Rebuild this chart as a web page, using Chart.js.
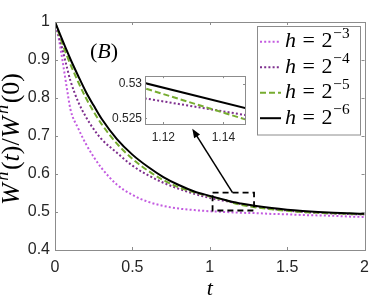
<!DOCTYPE html>
<html>
<head>
<meta charset="utf-8">
<script src="https://cdn.jsdelivr.net/npm/chart.js"></script>
<style>
  body { margin: 0; background: #fff; }
  #wrap { position: relative; width: 377px; height: 303px; }
  #mainChart { position: absolute; left: 0; top: 0; }
  #insetChart { position: absolute; left: 110px; top: 66px; }
</style>
</head>
<body>
<div id="wrap">
  <canvas id="mainChart" width="377" height="303"></canvas>
  <canvas id="insetChart" width="137" height="80"></canvas>
</div>
<script>
// time grid and W^h(t)/W^h(0)
const tValues = [0, 0.025, 0.05, 0.075, 0.1, 0.15, 0.2, 0.25, 0.3, 0.4, 0.5, 0.6, 0.7, 0.8, 0.9, 1.0, 1.1, 1.15, 1.2, 1.3, 1.4, 1.5, 1.6, 1.7, 1.8, 1.9, 2.0];
const wH3 = [1.0, 0.955, 0.895, 0.83, 0.77, 0.72, 0.679, 0.645, 0.616, 0.572, 0.545, 0.527, 0.516, 0.509, 0.505, 0.502, 0.5, 0.499, 0.498, 0.497, 0.495, 0.494, 0.492, 0.491, 0.49, 0.488, 0.487];
const wH4 = [1.0, 0.962, 0.925, 0.884, 0.845, 0.79, 0.75, 0.718, 0.692, 0.656, 0.622, 0.597, 0.577, 0.561, 0.548, 0.537, 0.5289, 0.5253, 0.521, 0.514, 0.508, 0.504, 0.5, 0.498, 0.496, 0.4945, 0.4935];
const wH5 = [1.0, 0.97, 0.94, 0.913, 0.888, 0.842, 0.8, 0.764, 0.732, 0.68, 0.64, 0.609, 0.584, 0.565, 0.552, 0.541, 0.5312, 0.5245, 0.519, 0.512, 0.507, 0.503, 0.5, 0.498, 0.4965, 0.4952, 0.4943];
const wH6 = [1.0, 0.975, 0.95, 0.926, 0.902, 0.858, 0.816, 0.78, 0.746, 0.692, 0.651, 0.619, 0.592, 0.571, 0.554, 0.5425, 0.5316, 0.5262, 0.5223, 0.5157, 0.5104, 0.5062, 0.5029, 0.5002, 0.4981, 0.4965, 0.4951];
const hExponents = [-3, -4, -5, -6];

const xTicks = [0, 0.5, 1, 1.5, 2];
const yTicks = [0.4, 0.5, 0.6, 0.7, 0.8, 0.9, 1];
const insetXTicks = [1.12, 1.14];
const insetYTicks = [0.525, 0.53];

const sansFont = '"Liberation Sans", Arial, sans-serif';
const serifFont = '"Liberation Serif", "Times New Roman", serif';
const axisGray = '#8c8c8c';
const labelColor = '#262626';

const styles = [
  { color: '#c35be0', dash: [2, 2.2] },
  { color: '#7e2f8e', dash: [2, 2.2] },
  { color: '#77ac30', dash: [6, 3] },
  { color: '#000000', dash: [] }
];

function makeDatasets(smooth) {
  return [wH3, wH4, wH5, wH6].map((vals, i) => ({
    label: 'h = 2^' + hExponents[i],
    data: tValues.map((t, j) => ({ x: t, y: vals[j] })),
    borderColor: styles[i].color,
    borderDash: styles[i].dash,
    borderWidth: 2,
    pointRadius: 0,
    fill: false,
    order: 3 - i,
    cubicInterpolationMode: smooth ? 'monotone' : 'default',
    tension: 0
  }));
}

function fmt(v) { return String(Math.round(v * 1000) / 1000); }

// box with ticks pointing inward on all four sides
function drawFrame(chart, tickLen) {
  const { ctx, chartArea: a, scales: { x, y } } = chart;
  ctx.save();
  ctx.strokeStyle = axisGray;
  ctx.lineWidth = 1;
  ctx.setLineDash([]);
  ctx.beginPath();
  x.ticks.forEach(t => {
    const px = Math.round(x.getPixelForValue(t.value)) + 0.5;
    ctx.moveTo(px, a.bottom); ctx.lineTo(px, a.bottom - tickLen);
    ctx.moveTo(px, a.top); ctx.lineTo(px, a.top + tickLen);
  });
  y.ticks.forEach(t => {
    const py = Math.round(y.getPixelForValue(t.value)) + 0.5;
    ctx.moveTo(a.left, py); ctx.lineTo(a.left + tickLen, py);
    ctx.moveTo(a.right, py); ctx.lineTo(a.right - tickLen, py);
  });
  ctx.stroke();
  ctx.strokeRect(Math.round(a.left) + 0.5, Math.round(a.top) + 0.5,
    Math.round(a.right - a.left), Math.round(a.bottom - a.top));
  ctx.restore();
}

// parts: [text, italic, superscript]; a number is a gap in em
function drawMath(ctx, parts, x, y, size, center) {
  const fontOf = p => (p[1] ? 'italic ' : '') + (p[2] ? size * 0.7 : size) + 'px ' + serifFont;
  const widthOf = p => {
    if (typeof p === 'number') return p * size;
    ctx.font = fontOf(p);
    return ctx.measureText(p[0]).width;
  };
  let w = 0;
  parts.forEach(p => { w += widthOf(p); });
  let cx = center ? x - w / 2 : x;
  parts.forEach(p => {
    if (typeof p !== 'number') {
      ctx.font = fontOf(p);
      ctx.fillText(p[0], cx, p[2] ? y - size * 0.42 : y);
    }
    cx += widthOf(p);
  });
}

const framePlugin = {
  id: 'frame',
  afterDraw(chart) { drawFrame(chart, 3); }
};

const decorPlugin = {
  id: 'decor',
  afterDraw(chart) {
    const { ctx, scales: { x, y } } = chart;
    ctx.save();
    ctx.fillStyle = '#000';
    ctx.textBaseline = 'alphabetic';

    // y label
    ctx.save();
    ctx.translate(19, 139);
    ctx.rotate(-Math.PI / 2);
    drawMath(ctx, [['W', 1], 0.1, ['h', 1, 1], 0.06, ['(', 0], ['t', 1], [')', 0], ['/', 0], ['W', 1], 0.1, ['h', 1, 1], 0.06, ['(0)', 0]], 0, 0, 26, true);
    ctx.restore();

    // panel tag
    drawMath(ctx, [['(', 0], ['B', 1], [')', 0]], 104, 58, 22, true);

    // dashed zoom box
    const bx0 = x.getPixelForValue(1.018), bx1 = x.getPixelForValue(1.286);
    const by0 = y.getPixelForValue(0.551), by1 = y.getPixelForValue(0.504);
    ctx.strokeStyle = '#000';
    ctx.lineWidth = 1.8;
    ctx.setLineDash([6, 4]);
    ctx.strokeRect(bx0, by0, bx1 - bx0, by1 - by0);
    ctx.setLineDash([]);

    // arrow to inset
    const ax0 = x.getPixelForValue(1.147), ay0 = y.getPixelForValue(0.551);
    const ax1 = x.getPixelForValue(0.887), ay1 = y.getPixelForValue(0.719);
    const ang = Math.atan2(ay1 - ay0, ax1 - ax0);
    ctx.lineWidth = 1.5;
    ctx.beginPath();
    ctx.moveTo(ax0, ay0);
    ctx.lineTo(ax1 - 6 * Math.cos(ang), ay1 - 6 * Math.sin(ang));
    ctx.stroke();
    ctx.beginPath();
    ctx.moveTo(ax1, ay1);
    ctx.lineTo(ax1 - 9 * Math.cos(ang) + 3.5 * Math.sin(ang), ay1 - 9 * Math.sin(ang) - 3.5 * Math.cos(ang));
    ctx.lineTo(ax1 - 9 * Math.cos(ang) - 3.5 * Math.sin(ang), ay1 - 9 * Math.sin(ang) + 3.5 * Math.cos(ang));
    ctx.closePath();
    ctx.fill();

    // legend
    ctx.fillStyle = '#fff';
    ctx.fillRect(257.5, 26.5, 103, 108.5);
    ctx.strokeStyle = axisGray;
    ctx.lineWidth = 1;
    ctx.strokeRect(257.5, 26.5, 103, 108.5);
    chart.data.datasets.forEach((ds, i) => {
      const ly = 41.7 + i * 25.5;
      ctx.strokeStyle = ds.borderColor;
      ctx.lineWidth = 2;
      ctx.setLineDash(ds.borderDash);
      ctx.beginPath();
      ctx.moveTo(260, ly);
      ctx.lineTo(281, ly);
      ctx.stroke();
      ctx.setLineDash([]);
      ctx.fillStyle = '#000';
      drawMath(ctx, [['h', 1], 0.3, ['=', 0], 0.3, ['2', 0], 0.03, ['\u2212' + Math.abs(hExponents[i]), 0, 1]], 285, ly + 5.5, 22, false);
    });
    ctx.restore();
  }
};

new Chart('mainChart', {
  type: 'line',
  data: { datasets: makeDatasets(true) },
  options: {
    responsive: false,
    animation: false,
    devicePixelRatio: 1,
    layout: { padding: { top: 22, right: 11, left: 0, bottom: 0 } },
    plugins: { legend: { display: false }, tooltip: { enabled: false } },
    scales: {
      x: {
        type: 'linear', min: 0, max: 2,
        afterBuildTicks: s => { s.ticks = xTicks.map(v => ({ value: v })); },
        afterFit: s => { s.height = 53; },
        grid: { display: false, drawTicks: false },
        border: { display: false },
        ticks: { font: { family: sansFont, size: 16 }, color: labelColor, padding: 8, maxRotation: 0, callback: fmt },
        title: { display: true, text: 't', color: '#000', font: { family: serifFont, style: 'italic', size: 22 }, padding: { top: 0, bottom: 1 } }
      },
      y: {
        type: 'linear', min: 0.4, max: 1,
        afterBuildTicks: s => { s.ticks = yTicks.map(v => ({ value: v })); },
        afterFit: s => { s.width = 55; },
        grid: { display: false, drawTicks: false },
        border: { display: false },
        ticks: { font: { family: sansFont, size: 16 }, color: labelColor, padding: 5, callback: fmt }
      }
    }
  },
  plugins: [framePlugin, decorPlugin]
});

new Chart('insetChart', {
  type: 'line',
  data: { datasets: makeDatasets(false) },
  options: {
    responsive: false,
    animation: false,
    devicePixelRatio: 1,
    layout: { padding: { top: 1, right: 2, left: 0, bottom: 0 } },
    plugins: { legend: { display: false }, tooltip: { enabled: false } },
    scales: {
      x: {
        type: 'linear', min: 1.1139, max: 1.1472,
        afterBuildTicks: s => { s.ticks = insetXTicks.map(v => ({ value: v })); },
        afterFit: s => { s.height = 22; },
        grid: { display: false, drawTicks: false },
        border: { display: false },
        ticks: { font: { family: sansFont, size: 12 }, color: labelColor, padding: 6, maxRotation: 0, callback: fmt }
      },
      y: {
        type: 'linear', min: 0.5242, max: 0.5311,
        afterBuildTicks: s => { s.ticks = insetYTicks.map(v => ({ value: v })); },
        afterFit: s => { s.width = 35; },
        grid: { display: false, drawTicks: false },
        border: { display: false },
        ticks: { font: { family: sansFont, size: 12 }, color: labelColor, padding: 3, callback: fmt }
      }
    }
  },
  plugins: [{
    id: 'insetBg',
    beforeDatasetsDraw(chart) {
      const a = chart.chartArea;
      chart.ctx.fillStyle = '#fff';
      chart.ctx.fillRect(a.left, a.top, a.right - a.left, a.bottom - a.top);
    },
    afterDraw(chart) { drawFrame(chart, 2); }
  }]
});
</script>
</body>
</html>
